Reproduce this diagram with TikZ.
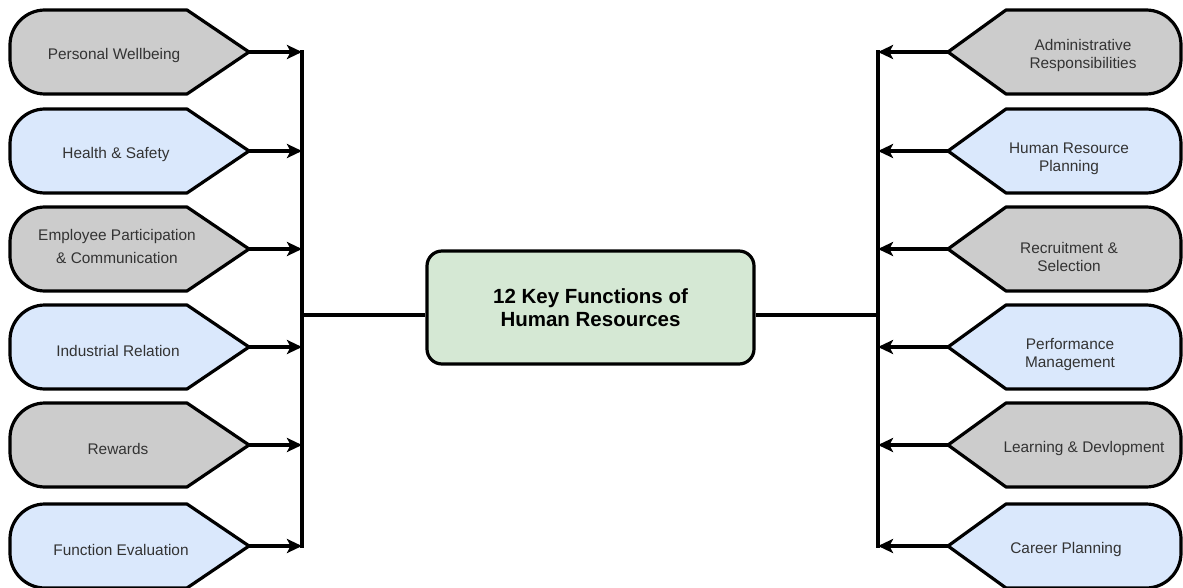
\documentclass[tikz,border=0pt]{standalone}
\usepackage{fontspec}
\setmainfont{Liberation Sans}
\usetikzlibrary{arrows.meta}

\definecolor{boxgray}{HTML}{CCCCCC}
\definecolor{boxblue}{HTML}{DAE8FC}
\definecolor{boxgreen}{HTML}{D5E8D4}
\definecolor{labeltext}{HTML}{333333}

\tikzset{
  outline/.style={draw=black, line width=3.2pt, line join=round},
  lbl/.style={align=center, text=labeltext, font=\fontsize{15.4}{18}\selectfont, inner sep=0pt},
  trunk/.style={draw=black, line width=3.2pt},
  feed/.style={draw=black, line width=3.2pt, -{Stealth[length=15pt,width=14pt,inset=3.5pt]}},
  hub/.style={outline, rounded corners=15pt, fill=boxgreen, minimum width=327pt,
    minimum height=113pt, align=center, font=\bfseries\fontsize{20.5}{23}\selectfont}
}

% left tag: rounded on the left, pointed on the right
% #1 name, #2 row y, #3 fill, #4 label position, #5 label
\newcommand{\lefttag}[5]{%
  \draw[outline, fill=#3] (249,#2) -- (187,#2+42) -- (45,#2+42)
    .. controls (25.7,#2+42) and (10,#2+26.3) .. (10,#2+7) -- (10,#2-7)
    .. controls (10,#2-26.3) and (25.7,#2-42) .. (45,#2-42) -- (187,#2-42) -- cycle;
  \coordinate (#1-tip) at (249,#2);
  \node[lbl] (#1) at (#4) {#5};
}
% right tag: pointed on the left, rounded on the right
\newcommand{\righttag}[5]{%
  \draw[outline, fill=#3] (948,#2) -- (1006,#2+42) -- (1146,#2+42)
    .. controls (1165.3,#2+42) and (1181,#2+26.3) .. (1181,#2+7) -- (1181,#2-7)
    .. controls (1181,#2-26.3) and (1165.3,#2-42) .. (1146,#2-42) -- (1006,#2-42) -- cycle;
  \coordinate (#1-tip) at (948,#2);
  \node[lbl] (#1) at (#4) {#5};
}

\begin{document}
\begin{tikzpicture}[x=1pt, y=-1pt]
\useasboundingbox (0,0) rectangle (1183,588);

% left column
\lefttag{pw}{52}{boxgray}{114,56}{Personal Wellbeing}
\lefttag{hs}{151}{boxblue}{116,155}{Health \& Safety}
\lefttag{ep}{249}{boxgray}{117,246}{Employee Participation\\[5pt]\& Communication}
\lefttag{ir}{347}{boxblue}{118,351}{Industrial Relation}
\lefttag{rw}{445}{boxgray}{118,449}{Rewards}
\lefttag{fe}{546}{boxblue}{121,550}{Function Evaluation}

% right column
\righttag{ar}{52}{boxgray}{1083,56}{Administrative\\Responsibilities}
\righttag{hr}{151}{boxblue}{1069,159}{Human Resource\\Planning}
\righttag{rs}{249}{boxgray}{1069,257}{Recruitment \&\\Selection}
\righttag{pm}{347}{boxblue}{1070,355}{Performance\\Management}
\righttag{ld}{445}{boxgray}{1084,449}{Learning \& Devlopment}
\righttag{cp}{546}{boxblue}{1066,550}{Career Planning}

% central topic
\node[hub] (core) at (590.5,307.5) {12 Key Functions of\\Human Resources};

% trunks
\coordinate (Ltop) at (302,52);
\coordinate (Lbot) at (302,546);
\coordinate (Ljoin) at (302,315);
\coordinate (Rtop) at (878,52);
\coordinate (Rbot) at (878,546);
\coordinate (Rjoin) at (878,315);

\draw[trunk, line cap=rect] (Ltop) -- (Lbot);
\draw[trunk, line cap=rect] (Rtop) -- (Rbot);
\draw[trunk] (Ljoin) -- (Ljoin -| core.west);
\draw[trunk] (Rjoin) -- (Rjoin -| core.east);

% feeders
\foreach \t in {pw,hs,ep,ir,rw,fe}
  \draw[feed] (\t-tip) -- (\t-tip -| Ltop);
\foreach \t in {ar,hr,rs,pm,ld,cp}
  \draw[feed] (\t-tip) -- (\t-tip -| Rtop);
\end{tikzpicture}
\end{document}
